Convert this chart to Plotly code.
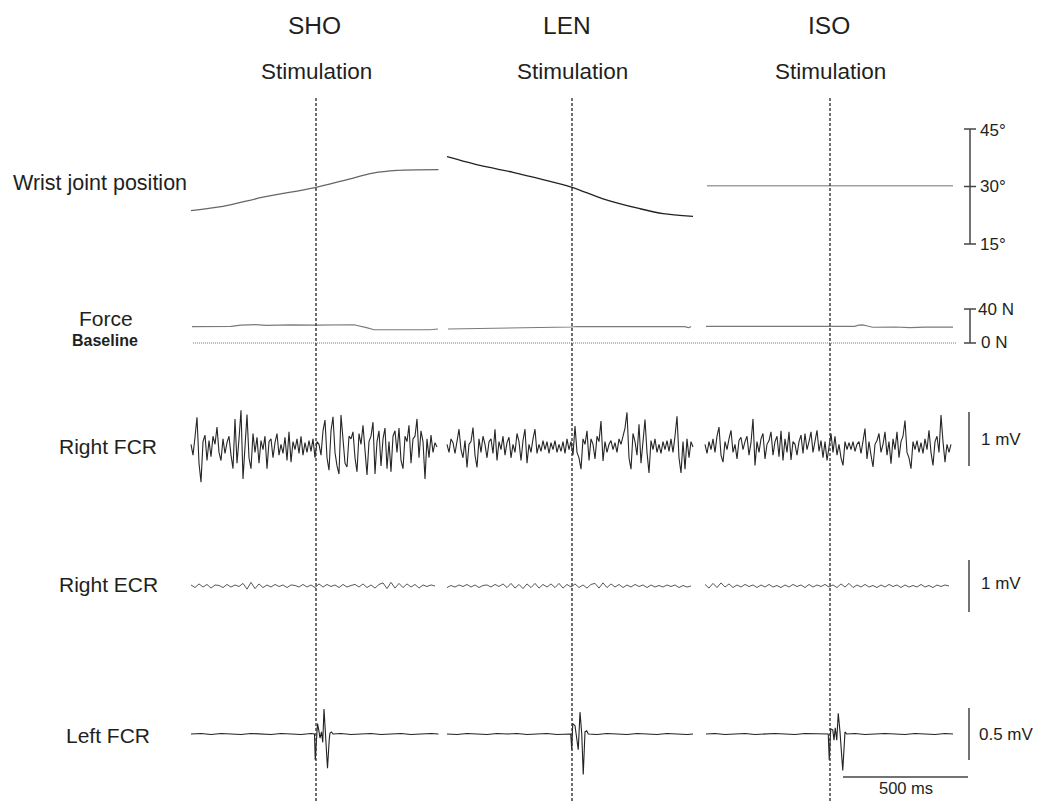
import numpy as np
import plotly.graph_objects as go

W, H = 1040, 801

# ---------------- data ----------------
SEGMENTS = ["SHO", "LEN", "ISO"]
SEG_OFFSET_MS = [0, 1024, 2056]
STIM_MS = 500

# Wrist joint position (deg)
WRIST_T_SHO = [0, 128, 288, 496, 624, 728, 824, 990]
WRIST_SHO = [23.7, 24.8, 27.2, 29.7, 31.8, 33.5, 34.2, 34.4]
WRIST_T_LEN = [0, 132, 264, 384, 500, 624, 772, 864, 984]
WRIST_LEN = [37.8, 35.5, 33.7, 31.8, 29.8, 26.8, 24.2, 22.9, 22.2]
WRIST_T_ISO = [8, 992]
WRIST_ISO = [30.2, 30.2]

# Force (N)
FORCE_T_SHO = [4, 160, 200, 260, 300, 364, 400, 496, 560, 600, 652, 702, 732, 956, 988]
FORCE_SHO = [19.2, 19.6, 21.0, 21.6, 20.8, 21.2, 21.4, 21.0, 21.2, 21.8, 21.5, 18.0, 15.6, 15.6, 16.5]
FORCE_T_LEN = [4, 200, 400, 496, 520, 700, 950, 966, 976]
FORCE_LEN = [16.5, 17.2, 18.0, 18.8, 19.4, 19.4, 19.2, 18.0, 19.2]
FORCE_T_ISO = [4, 300, 598, 615, 630, 650, 670, 760, 820, 880, 940, 992]
FORCE_ISO = [19.6, 19.8, 19.6, 21.0, 21.4, 20.0, 18.5, 18.8, 18.0, 18.6, 18.2, 18.6]
FORCE_BASELINE_T = [8, 3064]
FORCE_BASELINE = [0, 0]

# Right FCR EMG (mV), sampled every 8 ms
FCR_DT_MS = 8
FCR_SHO = [0.05, -0.15, 0.18, 0.55, -0.3, -0.65, 0.1, 0.22, -0.25, 0.12,
           -0.18, 0.2, 0.05, 0.37, -0.1, -0.25, 0.15, -0.12, 0.08, 0.2,
           -0.15, -0.4, 0.52, -0.3, 0.15, 0.68, -0.59, 0.1, 0.6, -0.2,
           -0.4, 0.25, -0.1, 0.18, -0.3, 0.12, -0.05, 0.2, -0.4, 0.1,
           0.15, -0.2, 0.08, 0.25, -0.15, 0.05, -0.12, 0.18, -0.25, 0.28,
           -0.28, 0.1, -0.05, 0.15, -0.12, 0.2, -0.15, 0.08, -0.1, 0.12,
           -0.08, 0.15, -0.2, 0.1, 0.05, -0.15, 0.3, 0.5, -0.2, -0.43,
           0.3, 0.56, -0.1, -0.35, -0.5, 0.59, 0.1, -0.3, -0.37, 0.2,
           0.15, 0.28, -0.2, -0.46, 0.25, 0.05, 0.4, -0.15, -0.52, 0.1,
           0.2, 0.46, -0.5, 0.1, 0.3, -0.35, 0.15, 0.35, -0.4, 0.1,
           -0.46, 0.2, 0.3, -0.1, 0.35, -0.25, -0.4, 0.2, 0.1, 0.4,
           -0.3, 0.15, 0.2, 0.52, -0.2, 0.3, 0.1, -0.59, 0.15, -0.2,
           0.22, -0.1, 0.08, 0.0]
FCR_LEN = [0.05, -0.1, 0.15, 0.08, -0.12, 0.1, 0.33, -0.05, -0.2, 0.12,
           -0.38, 0.05, 0.1, 0.36, -0.15, -0.38, 0.15, -0.1, 0.2, 0.05,
           -0.2, 0.1, 0.15, -0.12, 0.33, -0.25, 0.1, -0.05, 0.2, -0.15,
           0.08, 0.18, -0.2, 0.05, -0.1, 0.25, 0.1, -0.25, 0.12, 0.33,
           -0.3, 0.05, -0.1, 0.15, 0.33, -0.12, 0.05, -0.08, 0.12, -0.05,
           0.1, -0.12, 0.08, -0.05, 0.12, -0.1, 0.05, -0.08, 0.1, -0.12,
           0.15, -0.05, 0.1, -0.15, 0.39, -0.1, -0.2, -0.41, 0.15, 0.05,
           0.3, -0.25, 0.15, 0.05, -0.22, 0.2, 0.1, 0.48, -0.26, 0.1,
           -0.1, 0.05, 0.12, -0.05, 0.08, -0.1, 0.15, 0.05, 0.2, 0.35,
           0.64, -0.2, -0.41, 0.25, 0.1, -0.15, 0.42, -0.3, 0.1, 0.51,
           -0.1, -0.48, 0.12, -0.05, 0.15, -0.1, 0.05, -0.12, 0.1, -0.05,
           0.12, -0.08, 0.15, -0.1, 0.2, 0.57, -0.2, -0.48, 0.1, -0.41,
           0.15, -0.2, 0.1, 0.0]
FCR_ISO = [0.05, -0.12, 0.1, -0.05, 0.15, -0.1, 0.2, 0.37, -0.15, -0.28,
           0.1, -0.05, 0.15, 0.31, -0.1, 0.05, -0.22, 0.12, 0.18, -0.05,
           0.1, 0.2, -0.15, 0.08, 0.52, -0.34, 0.1, -0.1, 0.15, 0.25,
           -0.22, 0.05, 0.12, 0.28, -0.15, 0.1, 0.2, -0.18, 0.3, -0.25,
           0.15, -0.1, 0.28, -0.24, 0.1, 0.05, -0.15, 0.1, 0.22, -0.12,
           0.25, -0.05, 0.1, 0.28, -0.1, 0.15, 0.31, -0.08, 0.12, -0.2,
           0.1, -0.25, 0.05, 0.25, -0.1, 0.2, -0.15, 0.05, -0.2, -0.34,
           0.1, -0.05, 0.08, -0.05, 0.1, -0.08, 0.05, 0.1, -0.12, 0.15,
           0.34, -0.22, 0.1, -0.15, -0.37, 0.05, 0.12, 0.25, -0.1, 0.05,
           0.28, -0.15, 0.1, -0.31, 0.15, -0.05, 0.28, -0.2, 0.1, 0.2,
           0.49, -0.1, -0.2, -0.4, 0.1, -0.05, 0.12, -0.1, 0.08, -0.12,
           0.15, -0.05, 0.31, -0.1, -0.34, 0.1, 0.2, -0.1, 0.59, 0.1,
           -0.28, 0.05, -0.1, 0.05]

# Right ECR EMG (mV), sampled every 16 ms
ECR_DT_MS = 16
ECR_SHO = [0.02, -0.03, 0.04, -0.02, 0.03, -0.04, 0.02, 0.01, -0.03, 0.03,
           -0.02, 0.02, -0.01, 0.05, -0.06, 0.07, -0.05, 0.04, -0.03, 0.02,
           -0.02, 0.03, -0.01, 0.02, -0.03, 0.02, 0.01, -0.02, 0.03, -0.02,
           0.02, -0.03, 0.04, -0.02, 0.03, -0.01, 0.02, -0.03, 0.03, -0.02,
           0.01, 0.03, -0.02, 0.04, -0.03, 0.02, -0.04, 0.03, 0.06, -0.05,
           0.07, -0.04, 0.05, -0.03, 0.04, -0.02, 0.03, -0.04, 0.02, -0.01,
           0.02, 0.0]
ECR_LEN = [-0.03, 0.01, -0.02, 0.02, -0.01, 0.03, -0.02, 0.02, -0.03, 0.01,
           0.02, -0.02, 0.03, -0.01, 0.04, -0.03, 0.05, -0.04, 0.03, -0.05,
           0.04, -0.03, 0.05, -0.04, 0.03, -0.02, 0.04, -0.03, 0.05, -0.04,
           0.03, -0.02, 0.04, -0.03, 0.02, -0.04, 0.03, 0.05, -0.04, 0.06,
           -0.03, 0.04, -0.02, 0.03, -0.03, 0.02, -0.02, 0.03, -0.01, 0.02,
           -0.03, 0.02, -0.02, 0.01, -0.02, 0.02, -0.01, 0.02, -0.03, 0.01,
           -0.02, 0.0]
ECR_ISO = [0.03, -0.04, 0.05, -0.03, 0.06, -0.02, 0.04, -0.03, 0.02, -0.02,
           0.03, -0.01, 0.02, -0.03, 0.02, -0.02, 0.03, -0.02, 0.01, -0.03,
           0.02, -0.02, 0.03, -0.01, 0.02, -0.03, 0.03, -0.02, 0.02, -0.01,
           0.03, -0.02, 0.02, -0.03, 0.04, -0.02, 0.05, -0.03, 0.02, -0.02,
           0.03, -0.02, 0.01, -0.03, 0.02, -0.02, 0.03, -0.01, 0.02, -0.03,
           0.02, -0.02, 0.01, -0.02, 0.03, -0.02, 0.01, -0.03, 0.02, -0.01,
           0.02, 0.0]

# Left FCR EMG (mV), irregular sample times (ms)
LFCR_T_SHO = [0, 40, 80, 120, 160, 200, 240, 280, 320, 360, 400, 440, 480, 494,
              497, 501, 506, 511, 516, 522, 527, 532, 539, 546, 553, 556, 562, 568,
              600, 640, 680, 720, 760, 800, 840, 880, 920, 960, 990]
LFCR_SHO = [0, 0.005, -0.005, 0.005, 0, -0.005, 0.005, 0, -0.005, 0.005, 0, -0.005, 0.005, 0,
            -0.25, -0.02, 0.10, 0.04, -0.04, 0.02, -0.08, 0.24, 0.0, -0.33, -0.05, 0.01, 0.02, 0,
            0.005, -0.005, 0, 0.005, -0.005, 0, 0.005, -0.005, 0, 0.005, 0]
LFCR_T_LEN = [0, 40, 80, 120, 160, 200, 240, 280, 320, 360, 400, 440, 480, 495,
              499, 503, 512, 519, 525, 532, 539, 545, 552, 559, 565,
              600, 640, 680, 720, 760, 800, 840, 880, 920, 960, 984]
LFCR_LEN = [0, -0.005, 0.005, 0, -0.005, 0.005, 0, 0.005, -0.005, 0, 0.005, -0.005, 0, 0,
            -0.15, 0.10, 0.08, -0.05, -0.15, 0.21, 0.0, -0.39, 0.02, 0.03, 0,
            -0.005, 0.005, 0, -0.005, 0.005, 0, -0.005, 0.005, 0, -0.005, 0]
LFCR_T_ISO = [4, 40, 80, 120, 160, 200, 240, 280, 320, 360, 400, 440, 480, 493,
              497, 503, 511, 516, 521, 527, 533, 540, 551, 560, 567,
              600, 640, 680, 720, 760, 800, 840, 880, 920, 960, 992]
LFCR_ISO = [0, 0.005, -0.005, 0, 0.005, -0.005, 0, 0.005, 0, -0.005, 0.005, 0, -0.005, 0,
            -0.25, 0.05, 0.04, -0.06, 0.06, -0.06, 0.20, 0.02, -0.35, 0.02, 0,
            0.005, -0.005, 0, 0.005, 0, -0.005, 0.005, 0, -0.005, 0.005, 0]

# Scale bars
WRIST_BAR_DEG = [15, 30, 45]
FORCE_BAR_N = [0, 40]
FCR_BAR_MV = [-0.35, 0.65]
ECR_BAR_MV = [-0.5, 0.5]
LFCR_BAR_MV = [-0.25, 0.25]
TIME_BAR_MS = 500

# ---------------- layout geometry ----------------
PX_PER_MS = 0.25
X0_PX = 191           # pixel of t=0 of first segment
def px_to_ms(p):
    return (p - X0_PX) / PX_PER_MS

XRANGE = [px_to_ms(0), px_to_ms(W)]

def yrange(v0, p0, s):
    # value v0 sits at pixel row p0, s pixels per unit
    return [v0 - (H - p0) / s, v0 + p0 / s]

AX = {
    "wrist": dict(name="y", rng=yrange(30, 186.5, 115 / 30)),
    "force": dict(name="y2", rng=yrange(0, 343, 34 / 40)),
    "fcr": dict(name="y3", rng=yrange(0, 447, 54)),
    "ecr": dict(name="y4", rng=yrange(0, 586, 52)),
    "lfcr": dict(name="y5", rng=yrange(0, 734, 104)),
}

DARK = "#1e1e1e"
fig = go.Figure()

def add_line(t, v, offset, axis, color=DARK, width=1.1, dash=None, shape="linear"):
    x = [ti + offset for ti in t]
    fig.add_trace(go.Scatter(x=x, y=v, mode="lines", yaxis=AX[axis]["name"],
                             line=dict(color=color, width=width, dash=dash, shape=shape,
                                       smoothing=0.8 if shape == "spline" else None),
                             hoverinfo="skip", showlegend=False))

wrist = [(WRIST_T_SHO, WRIST_SHO, "#666"), (WRIST_T_LEN, WRIST_LEN, "#222"), (WRIST_T_ISO, WRIST_ISO, "#a0a0a0")]
force = [(FORCE_T_SHO, FORCE_SHO), (FORCE_T_LEN, FORCE_LEN), (FORCE_T_ISO, FORCE_ISO)]
fcr = [FCR_SHO, FCR_LEN, FCR_ISO]
ecr = [ECR_SHO, ECR_LEN, ECR_ISO]
lfcr = [(LFCR_T_SHO, LFCR_SHO), (LFCR_T_LEN, LFCR_LEN), (LFCR_T_ISO, LFCR_ISO)]

for k, off in enumerate(SEG_OFFSET_MS):
    add_line(wrist[k][0], wrist[k][1], off, "wrist", color=wrist[k][2], width=1.3, shape="spline")
    add_line(force[k][0], force[k][1], off, "force", color="#7a7a7a", width=1.2)
    t_fcr = [i * FCR_DT_MS for i in range(len(fcr[k]))]
    add_line(t_fcr, fcr[k], off, "fcr", color="#262626", width=1.1)
    t_ecr = [i * ECR_DT_MS for i in range(len(ecr[k]))]
    add_line(t_ecr, ecr[k], off, "ecr", color="#444", width=0.9)
    add_line(lfcr[k][0], lfcr[k][1], off, "lfcr", color="#222", width=1.1)

add_line(FORCE_BASELINE_T, FORCE_BASELINE, 0, "force", color="#777", width=1.0, dash="1px,1px")

shapes = []
# stimulation lines
for off in SEG_OFFSET_MS:
    shapes.append(dict(type="line", xref="x", yref="paper", x0=STIM_MS + off, x1=STIM_MS + off,
                       y0=0, y1=1 - 97 / H, line=dict(color="#333", width=1.4, dash="3px,2px")))

def vbar(xpx, axis, lo, hi, ticks, tick_half_px=6):
    xa = px_to_ms(xpx)
    yref = AX[axis]["name"]
    shapes.append(dict(type="line", xref="x", yref=yref, x0=xa, x1=xa, y0=lo, y1=hi,
                       line=dict(color="#444", width=1.5)))
    for tv in ticks:
        shapes.append(dict(type="line", xref="x", yref=yref,
                           x0=px_to_ms(xpx - tick_half_px), x1=px_to_ms(xpx + tick_half_px),
                           y0=tv, y1=tv, line=dict(color="#444", width=1.5)))

vbar(970, "wrist", WRIST_BAR_DEG[0], WRIST_BAR_DEG[-1], WRIST_BAR_DEG)
vbar(970, "force", FORCE_BAR_N[0], FORCE_BAR_N[1], FORCE_BAR_N)
vbar(969, "fcr", FCR_BAR_MV[0], FCR_BAR_MV[1], [])
vbar(969, "ecr", ECR_BAR_MV[0], ECR_BAR_MV[1], [])
vbar(969, "lfcr", LFCR_BAR_MV[0], LFCR_BAR_MV[1], [])
# time bar
tb_end = px_to_ms(968)
shapes.append(dict(type="line", xref="x", yref="paper", x0=tb_end - TIME_BAR_MS, x1=tb_end,
                   y0=1 - 777 / H, y1=1 - 777 / H, line=dict(color="#444", width=1.5)))

FONT = "Liberation Sans, Arial, sans-serif"
TXT = "#231f20"
ann = []
def label(text, xpx, ypx, size, xanchor="center", bold=False):
    ann.append(dict(text=f"<b>{text}</b>" if bold else text, xref="paper", yref="paper",
                    x=xpx / W, y=1 - ypx / H, xanchor=xanchor, yanchor="middle",
                    showarrow=False, font=dict(family=FONT, size=size, color=TXT)))

head_x = [314, 567, 829]
stim_x = [316, 572, 830]
for name, hx, sx in zip(SEGMENTS, head_x, stim_x):
    label(name, hx, 26, 24.5)
    label("Stimulation", sx, 71, 22.5)

label("Wrist joint position", 100, 183, 21.5)
label("Force", 106, 318, 21)
label("Baseline", 105, 341, 16, bold=True)
label("Right FCR", 108, 446, 21)
label("Right ECR", 108, 584, 21)
label("Left FCR", 108, 735, 21)

label("45°", 978, 131, 17, xanchor="left")
label("30°", 978, 186, 17, xanchor="left")
label("15°", 978, 244, 17, xanchor="left")
label("40 N", 976, 309, 17, xanchor="left")
label("0 N", 979, 343, 17, xanchor="left")
label("1 mV", 979, 439, 17, xanchor="left")
label("1 mV", 979, 583, 17, xanchor="left")
label("0.5 mV", 977, 734, 17, xanchor="left")
ann.append(dict(text="500 ms", xref="paper", yref="paper", x=906 / W, y=2 / H,
                xanchor="center", yanchor="bottom", showarrow=False,
                font=dict(family=FONT, size=16.5, color=TXT)))

layout = dict(
    width=W, height=H, margin=dict(l=0, r=0, t=0, b=0),
    paper_bgcolor="white", plot_bgcolor="white",
    xaxis=dict(range=XRANGE, visible=False, fixedrange=True),
    shapes=shapes, annotations=ann, showlegend=False,
)
for key, a in AX.items():
    lname = "yaxis" if a["name"] == "y" else "yaxis" + a["name"][1:]
    d = dict(range=a["rng"], visible=False, fixedrange=True, domain=[0, 1])
    if a["name"] != "y":
        d["overlaying"] = "y"
    layout[lname] = d
fig.update_layout(**layout)
fig.write_html("out.html")
